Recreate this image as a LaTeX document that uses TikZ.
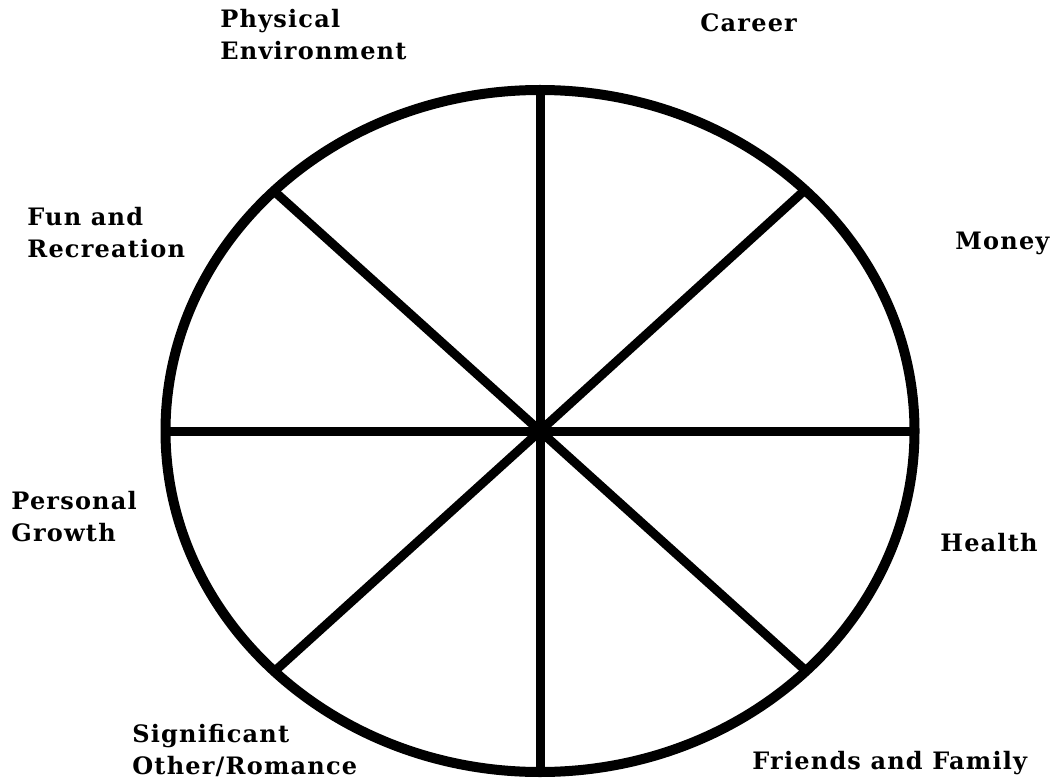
\documentclass[tikz,border=0pt]{standalone}
\usepackage{fontspec}
\setmainfont[LetterSpace=5]{DejaVu Serif}
\usepackage{tikz}
\usetikzlibrary{calc}

\begin{document}
\begin{tikzpicture}[x=0.5pt,y=-0.5pt]
		\tikzset{area/.style={font=\bfseries\fontsize{12}{16}\selectfont,align=left,inner sep=0pt,anchor=north west}}
		\useasboundingbox (0,0) rectangle (1058,780);
		\coordinate (c) at (540,431);
		\coordinate (n) at (540,90);
		\coordinate (s) at (540,772);
		\coordinate (w) at (166,431);
		\coordinate (e) at (915,431);
		\coordinate (ne) at (805,190);
		\coordinate (nw) at (275,192);
		\coordinate (sw) at (276,670);
		\coordinate (se) at (805,670);
		\draw[line width=5pt] (c) ellipse [x radius=374.5, y radius=341];
		
		\path[line width=4.5pt]
		(c)  edge (n)
		(c)  edge (s)
		(c)  edge (w)
		(c)  edge (e)
		(c)  edge (ne)
		(c)  edge (nw)
		(c)  edge (sw)
		(c)  edge (se);
		
		\node (physical) at (220,9) [area] {Physical\\Environment};
		\node (career) at (700,13) [area] {Career};
		\node (fun) at (27,207) [area] {Fun and\\Recreation};
		\node (money) at (955,232) [area] {Money};
		\node (personal) at (11,491) [area] {Personal\\Growth};
		\node (health) at (940,533) [area] {Health};
		\node (significant) at (132,724) [area] {Significant\\Other/Romance};
		\node (friends) at (752,751) [area] {Friends and Family};
	\end{tikzpicture}
\end{document}
